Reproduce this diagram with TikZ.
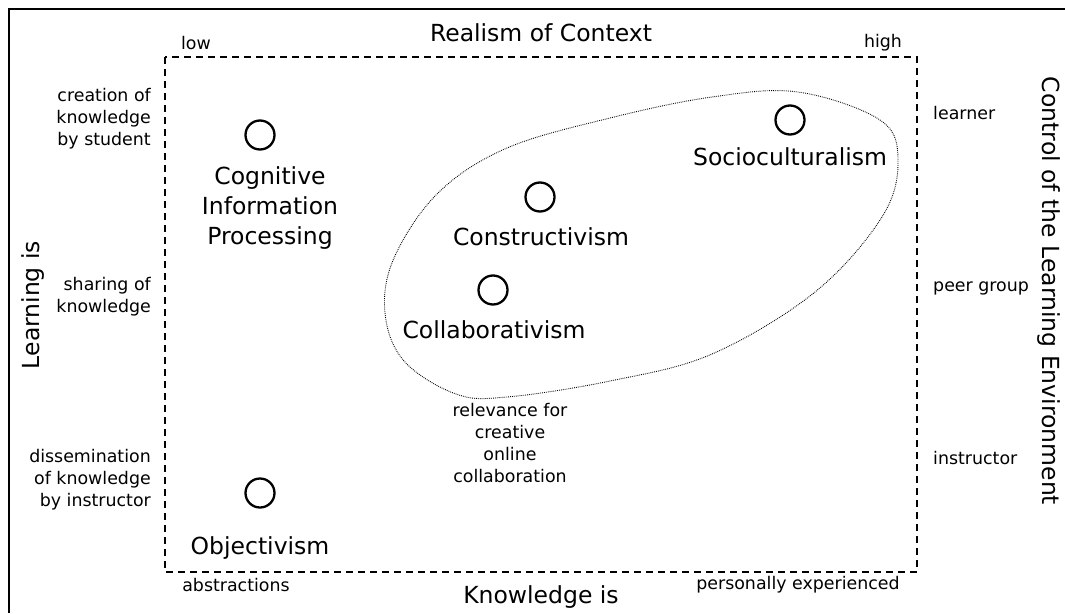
\documentclass[tikz,border=0pt]{standalone}
\usepackage{fontspec}
\setmainfont{DejaVu Sans}
\usetikzlibrary{positioning}
\tikzset{
  pont/.style={circle,draw,line width=2.3pt,minimum size=29pt,inner sep=0pt},
  cim/.style={font=\fontsize{23.5}{30}\selectfont,align=center,inner sep=0pt},
  fok/.style={font=\fontsize{17.4}{22}\selectfont,inner sep=0pt},
  keret/.style={line width=1.1pt,dash pattern=on 7pt off 5pt},
  folt/.style={line width=0.9pt,dash pattern=on 0.8pt off 1.1pt},
}
\begin{document}
\begin{tikzpicture}[x=1pt,y=-1pt]
  \useasboundingbox (0,0) rectangle (1065,613);
  \draw[line width=1.5pt] (9,613) -- (9,9) -- (1065,9);
  \draw[keret] (165,57) rectangle (917,572);
  % axes
  \node[cim] (realism) at (541,33) {Realism of Context};
  \node[fok] (low) at (196,43) {low};
  \node[fok] (high) at (883,43) {high};
  \node[cim] (knowl) at (541,597) {Knowledge is};
  \node[fok] (abstr) at (236,585) {abstractions};
  \node[fok] (pers) at (798,585) {personally experienced};
  \node[cim,rotate=90] (learn) at (33,305) {Learning is};
  \node[cim,rotate=-90] (ctrl) at (1049,291) {Control of the Learning Environment};
  \foreach \n/\y/\lab in {l1/119/{creation of\\knowledge\\by student},
                          l2/297/{sharing of\\knowledge},
                          l3/480/{dissemination\\of knowledge\\by instructor}}
    \node[fok,align=right,anchor=east] (\n) at (151,\y) {\lab};
  \foreach \n/\y/\lab in {r1/113/learner,r2/288/{peer group},r3/458/instructor}
    \node[fok,anchor=west] (\n) at (933,\y) {\lab};
  % theories
  \node[pont] (cip) at (260,135) {};
  \node[cim] at (270,208) {Cognitive\\Information\\Processing};
  \node[pont] (obj) at (260,493) {};
  \node[cim] at (260,548) {Objectivism};
  \node[pont] (socio) at (790,120) {};
  \node[cim] at (790,157) {Socioculturalism};
  \node[pont] (constr) at (540,197) {};
  \node[cim] at (541,237) {Constructivism};
  \node[pont] (collab) at (493,290) {};
  \node[cim] at (494,330) {Collaborativism};
  \draw[folt] plot[smooth cycle,tension=0.6] coordinates {
    (798,92) (880,120) (898,160) (882,217) (815,292) (712,354) (610,381)
    (507,397) (456,394) (404,361) (385,313) (394,258) (438,193) (507,148)
    (610,118) (712,97)};
  \node[fok,align=center] (relev) at (510,443)
    {relevance for\\creative\\online\\collaboration};
\end{tikzpicture}
\end{document}
